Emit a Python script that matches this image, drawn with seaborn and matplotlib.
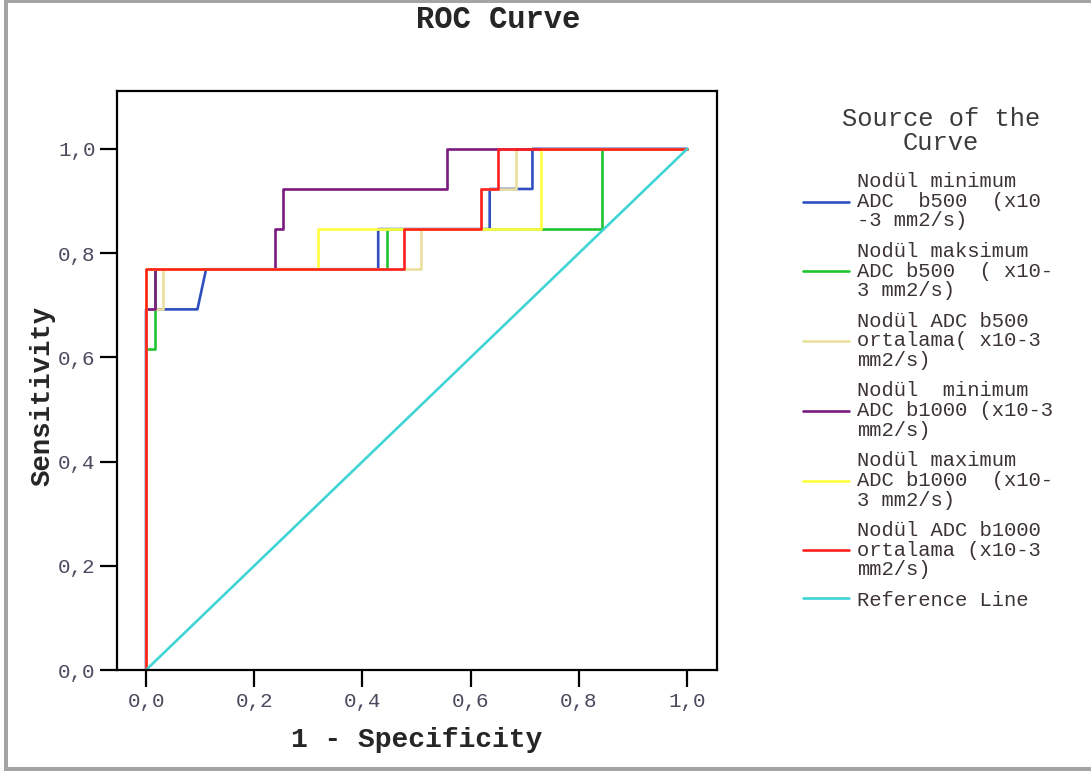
import numpy as np
import pandas as pd
import seaborn as sns
import matplotlib.pyplot as plt
from matplotlib.patches import Rectangle

# ROC curve vertices (1 - specificity, sensitivity)
blue_fpr = [0.0, 0.0, 0.095, 0.111, 0.429, 0.429, 0.635, 0.635, 0.714, 0.714, 1.0]
blue_tpr = [0.0, 0.692, 0.692, 0.769, 0.769, 0.846, 0.846, 0.923, 0.923, 1.0, 1.0]

green_fpr = [0.0, 0.0, 0.016, 0.016, 0.445, 0.445, 0.842, 0.842, 1.0]
green_tpr = [0.0, 0.615, 0.615, 0.769, 0.769, 0.846, 0.846, 1.0, 1.0]

khaki_fpr = [0.0, 0.0, 0.032, 0.032, 0.508, 0.508, 0.619, 0.619, 0.683, 0.683, 1.0]
khaki_tpr = [0.0, 0.692, 0.692, 0.769, 0.769, 0.846, 0.846, 0.923, 0.923, 1.0, 1.0]

purple_fpr = [0.0, 0.0, 0.016, 0.016, 0.238, 0.238, 0.254, 0.254, 0.556, 0.556, 1.0]
purple_tpr = [0.0, 0.692, 0.692, 0.769, 0.769, 0.846, 0.846, 0.923, 0.923, 1.0, 1.0]

yellow_fpr = [0.0, 0.0, 0.317, 0.317, 0.730, 0.730, 1.0]
yellow_tpr = [0.0, 0.769, 0.769, 0.846, 0.846, 1.0, 1.0]

red_fpr = [0.0, 0.0, 0.476, 0.476, 0.619, 0.619, 0.651, 0.651, 1.0]
red_tpr = [0.0, 0.769, 0.769, 0.846, 0.846, 0.923, 0.923, 1.0, 1.0]

ref_fpr = [0.0, 1.0]
ref_tpr = [0.0, 1.0]

curve_names = [
    "Nodül minimum\nADC  b500  (x10\n-3 mm2/s)",
    "Nodül maksimum\nADC b500  ( x10-\n3 mm2/s)",
    "Nodül ADC b500\nortalama( x10-3\nmm2/s)",
    "Nodül  minimum\nADC b1000 (x10-3\nmm2/s)",
    "Nodül maximum\nADC b1000  (x10-\n3 mm2/s)",
    "Nodül ADC b1000\nortalama (x10-3\nmm2/s)",
    "Reference Line",
]
curve_colors = ["#2f4fc0", "#1fc42f", "#e8e09c", "#7a1a82", "#ffff40", "#ff2020", "#40d4d4"]

xticks = [0.0, 0.2, 0.4, 0.6, 0.8, 1.0]
yticks = [0.0, 0.2, 0.4, 0.6, 0.8, 1.0]
tick_labels = ["0,0", "0,2", "0,4", "0,6", "0,8", "1,0"]

all_fpr = [blue_fpr, green_fpr, khaki_fpr, purple_fpr, yellow_fpr, red_fpr, ref_fpr]
all_tpr = [blue_tpr, green_tpr, khaki_tpr, purple_tpr, yellow_tpr, red_tpr, ref_tpr]

frames = []
for name, f, t in zip(curve_names, all_fpr, all_tpr):
    frames.append(pd.DataFrame({"fpr": f, "tpr": t, "curve": name}))
df = pd.concat(frames, ignore_index=True)

sns.set_style("white")
plt.rcParams['font.family'] = ['Liberation Mono', 'DejaVu Sans Mono']

fig = plt.figure(figsize=(10.91, 7.71), dpi=100)
ax = fig.add_axes([117 / 1091, 1 - 670 / 771, 600 / 1091, 579 / 771])

sns.lineplot(data=df, x="fpr", y="tpr", hue="curve", hue_order=curve_names,
             palette=curve_colors, sort=False, estimator=None, linewidth=1.9, ax=ax)

ax.set_xlim(-0.0536, 1.055)
ax.set_ylim(0, 1.111)
ax.set_xticks(xticks)
ax.set_xticklabels(tick_labels)
ax.set_yticks(yticks)
ax.set_yticklabels(tick_labels)
ax.tick_params(axis='both', direction='out', length=12.5, width=1.6, color='black',
               labelsize=15, labelcolor='#4a4a5e', left=True, bottom=True)
ax.tick_params(axis='x', pad=3)
ax.tick_params(axis='y', pad=3)
for sp in ax.spines.values():
    sp.set_color('black')
    sp.set_linewidth(1.6)

ax.set_xlabel("1 - Specificity", fontsize=20.2, fontweight='bold', labelpad=12)
ax.set_ylabel("Sensitivity", fontsize=19.7, fontweight='bold')
ax.yaxis.set_label_coords(-0.103, 0.473)
fig.text(498 / 1091, 1 - 20 / 771, "ROC Curve", fontsize=22, fontweight='bold',
         ha='center', va='center')

handles, labels = ax.get_legend_handles_labels()
leg = ax.legend(handles, labels, loc='upper left', bbox_to_anchor=(803 / 1091, 1 - 172 / 771),
                bbox_transform=fig.transFigure, frameon=False, fontsize=14.75,
                handlelength=2.25, handletextpad=0.4, labelspacing=0.55, borderpad=0,
                borderaxespad=0)
for txt in leg.get_texts():
    txt.set_color('#3c3434')
    txt.set_linespacing(1.05)
fig.text(941 / 1091, 1 - 131 / 771, "Source of the\nCurve", fontsize=18.4,
         ha='center', va='center', color='#3c3c3c', linespacing=1.0)

# grey frame of the original export
grey = '#a4a4a4'
fig.add_artist(Rectangle((4 / 1091, 1 - 3 / 771), 1, 3 / 771, transform=fig.transFigure,
                         color=grey, lw=0))
fig.add_artist(Rectangle((4 / 1091, 0), 4 / 1091, 1, transform=fig.transFigure,
                         color=grey, lw=0))
fig.add_artist(Rectangle((4 / 1091, 0), 1, 4 / 771, transform=fig.transFigure,
                         color=grey, lw=0))

fig.savefig("out.png", dpi=100)
